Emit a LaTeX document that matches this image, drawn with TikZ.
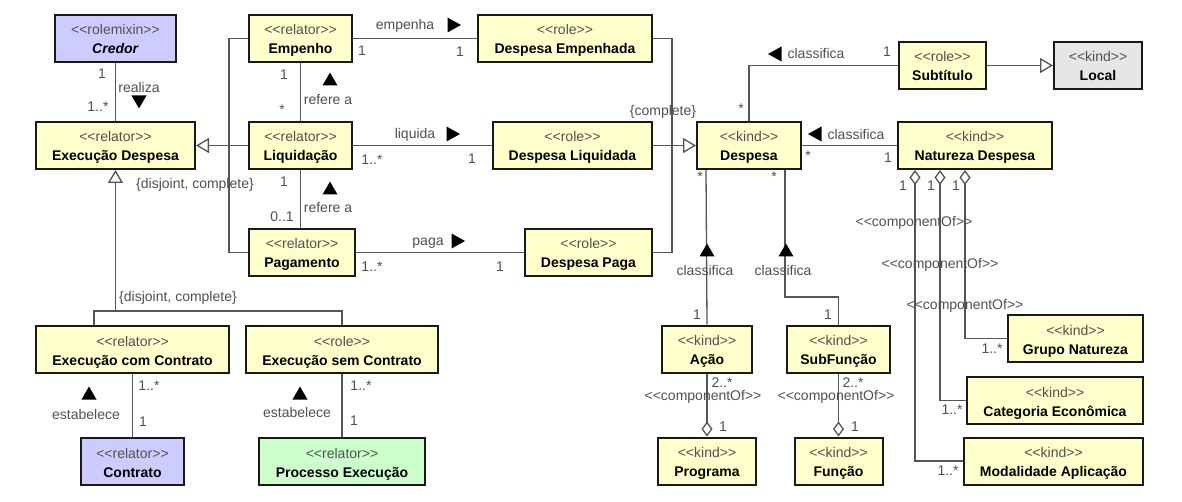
\documentclass[tikz,border=0pt]{standalone}
\usepackage{fontspec}
\setmainfont{Liberation Sans}
\usetikzlibrary{arrows.meta,calc}
\definecolor{boxyellow}{HTML}{FFFFCC}
\definecolor{boxblue}{HTML}{CCCCFF}
\definecolor{boxgreen}{HTML}{CCFFCC}
\definecolor{boxgray}{HTML}{E6E6E6}
\definecolor{linegray}{HTML}{555555}
\definecolor{txtgray}{HTML}{505050}
\newcommand{\stereo}[1]{{\color{txtgray}<\kern0pt<#1>\kern0pt>}}
\newcommand{\umlcls}[2]{\stereo{#1}\rule{0pt}{16pt}\\\textbf{#2}\rule[-4pt]{0pt}{4pt}}
\begin{document}
\begin{tikzpicture}[x=1pt,y=-1pt,
  box/.style={draw=black!90, line width=2pt, fill=boxyellow, align=center, inner sep=0pt, minimum height=47pt, font=\fontsize{14}{19}\selectfont},
  lbl/.style={font=\fontsize{14}{16}\selectfont, text=txtgray, inner sep=0pt, text height=10pt, text depth=3pt},
  assoc/.style={draw=linegray, line width=1.3pt},
  gen/.style={assoc, -{Triangle[length=13pt,width=15pt,fill=white]}},
  agg/.style={assoc, {Diamond[length=15pt,width=11pt,fill=white]}-},
  mup/.pic={\fill (-7.5,6.5) -- (7.5,6.5) -- (0,-6.5) -- cycle;},
  mdown/.pic={\fill (-7.5,-6.5) -- (7.5,-6.5) -- (0,6.5) -- cycle;},
  mright/.pic={\fill (-6.5,-7.5) -- (-6.5,7.5) -- (7,0) -- cycle;},
  mleft/.pic={\fill (6.5,-7.5) -- (6.5,7.5) -- (-7,0) -- cycle;}
]
\fill[white] (0,0) rectangle (1182,502);
\useasboundingbox (0,0) rectangle (1182,502);

% boxes
\node[box, fill=boxblue, minimum width=121pt] (cred) at (115.5,38.5) {\umlcls{rolemixin}{\textit{Credor}}};
\node[box, minimum width=159pt] (exd) at (115.5,145.5) {\umlcls{relator}{Execução Despesa}};
\node[box, minimum width=103pt] (emp) at (300.5,38.5) {\umlcls{relator}{Empenho}};
\node[box, minimum width=103pt] (liq) at (300.5,145.5) {\umlcls{relator}{Liquidação}};
\node[box, minimum width=106pt] (pag) at (302,252.5) {\umlcls{relator}{Pagamento}};
\node[box, minimum width=174pt] (dem) at (565,38.5) {\umlcls{role}{Despesa Empenhada}};
\node[box, minimum width=159pt] (dliq) at (572.5,145.5) {\umlcls{role}{Despesa Liquidada}};
\node[box, minimum width=127pt] (dpag) at (588.5,252.5) {\umlcls{role}{Despesa Paga}};
\node[box, minimum width=104pt] (desp) at (749,145.5) {\umlcls{kind}{Despesa}};
\node[box, minimum width=87pt] (sub) at (942.5,65.5) {\umlcls{role}{Subtítulo}};
\node[box, fill=boxgray, minimum width=88pt] (loc) at (1098,65.5) {\umlcls{kind}{Local}};
\node[box, minimum width=154pt] (nat) at (975,145.5) {\umlcls{kind}{Natureza Despesa}};
\node[box, minimum width=193pt] (ecc) at (132.5,349.5) {\umlcls{relator}{Execução com Contrato}};
\node[box, minimum width=192pt] (esc) at (342,349.5) {\umlcls{role}{Execução sem Contrato}};
\node[box, fill=boxblue, minimum width=103pt] (con) at (132.5,461.5) {\umlcls{relator}{Contrato}};
\node[box, fill=boxgreen, minimum width=166pt] (proc) at (342,461.5) {\umlcls{relator}{Processo Execução}};
\node[box, minimum width=90pt] (acao) at (707,349) {\umlcls{kind}{Ação}};
\node[box, minimum width=103pt] (subf) at (838.5,349) {\umlcls{kind}{SubFunção}};
\node[box, minimum width=98pt] (prog) at (707,461) {\umlcls{kind}{Programa}};
\node[box, minimum width=88pt] (func) at (838.5,461) {\umlcls{kind}{Função}};
\node[box, minimum width=135pt] (grp) at (1075.5,338.5) {\umlcls{kind}{Grupo Natureza}};
\node[box, minimum width=176pt] (cat) at (1055,400.5) {\umlcls{kind}{Categoria Econômica}};
\node[box, minimum width=179pt] (mod) at (1053.5,461) {\umlcls{kind}{Modalidade Aplicação}};

% connectors
\coordinate (gk) at (229,145.5);
\draw[assoc] (emp.west) -| (gk) |- (pag.west);
\draw[gen] (liq.west) -- (exd.east);
\draw[assoc] (cred.south) -- (exd.north);
\draw[assoc] (emp.south) -- (liq.north);
\draw[assoc] (liq.south) -- (liq.south |- pag.north);
\draw[assoc] (emp.east) -- (dem.west);
\draw[assoc] (liq.east) -- (dliq.west);
\draw[assoc] (pag.east) -- (dpag.west);
\coordinate (gc) at (672,145.5);
\draw[assoc] (dem.east) -| (gc) |- (dpag.east);
\draw[gen] (dliq.east) -- (desp.west);
\draw[assoc] (desp.north) |- (sub.west);
\draw[gen] (sub.east) -- (loc.west);
\draw[assoc] (desp.east) -- (nat.west);
\draw[assoc] ([xshift=10pt]desp.south west) -- (acao.north);
\draw[assoc] ([xshift=89pt]desp.south west) -- ++(0,127) -| (subf.north);
\draw[agg] (prog.north) -- (acao.south);
\draw[agg] (func.north) -- (subf.south);
\draw[agg] ([xshift=18pt]nat.south west) |- (mod.west);
\draw[agg] ([xshift=43pt]nat.south west) |- (cat.west);
\draw[agg] ([xshift=68pt]nat.south west) |- (grp.west);
\coordinate (gj) at (115.5,311);
\draw[assoc] ([xshift=59pt]ecc.north west) |- (gj) -| (esc.north);
\draw[gen] (gj) -- (exd.south);
\draw[assoc] (ecc.south) -- (con.north);
\draw[assoc] (esc.south) -- (proc.north);

% labels: Credor - Execucao
\node[lbl] (l01) at (102,75) {1};
\node[lbl] (l02) at (98,108) {1..*};
\node[lbl] (l03) at (139,89) {realiza};
\pic at (139,102) {mdown};
\node[lbl] (l04) at (195,185) {\{disjoint, complete\}};
\node[lbl] (l05) at (178,298) {\{disjoint, complete\}};
% Empenho - Liquidacao
\node[lbl] (l06) at (284,76) {1};
\node[lbl] (l07) at (282,111) {*};
\pic at (330,79) {mup};
\node[lbl] (l08) at (328,101) {refere a};
% Liquidacao - Pagamento
\node[lbl] (l09) at (284,183) {1};
\node[lbl] (l10) at (282,218) {0..1};
\pic at (330,188) {mup};
\node[lbl] (l11) at (328,209) {refere a};
% empenha
\node[lbl] (l12) at (405,26) {empenha};
\pic at (454,25) {mright};
\node[lbl] (l13) at (362,52) {1};
\node[lbl] (l14) at (460,53) {1};
% liquida
\node[lbl] (l15) at (415,135) {liquida};
\pic at (453,134) {mright};
\node[lbl] (l16) at (372,161) {1..*};
\node[lbl] (l17) at (472,160) {1};
% paga
\node[lbl] (l18) at (428,242) {paga};
\pic at (458,241) {mright};
\node[lbl] (l19) at (372,268) {1..*};
\node[lbl] (l20) at (500,268) {1};
\node[lbl] (l21) at (663,112) {\{complete\}};
% Despesa - Subtitulo
\pic at (775,54) {mleft};
\node[lbl] (l22) at (816,55) {classifica};
\node[lbl] (l23) at (887,53) {1};
\node[lbl] (l24) at (741,110) {*};
% Despesa - Natureza
\pic at (815,134) {mleft};
\node[lbl] (l25) at (856,136) {classifica};
\node[lbl] (l26) at (808,157) {*};
\node[lbl] (l27) at (888,159) {1};
% Despesa - Acao
\node[lbl] (l28) at (700,178) {*};
\pic at (707,250) {mup};
\node[lbl] (l29) at (705,272) {classifica};
\node[lbl] (l30) at (697,316) {1};
% Despesa - SubFuncao
\node[lbl] (l31) at (774,178) {*};
\pic at (786,250) {mup};
\node[lbl] (l32) at (783,272) {classifica};
\node[lbl] (l33) at (828,316) {1};
% Acao - Programa
\node[lbl] (l34) at (722,384) {2..*};
\node[lbl] (l35) at (703,397) {\stereo{componentOf}};
\node[lbl] (l36) at (723,428) {1};
% SubFuncao - Funcao
\node[lbl] (l37) at (853,384) {2..*};
\node[lbl] (l38) at (836,397) {\stereo{componentOf}};
\node[lbl] (l39) at (855,428) {1};
% Natureza parts
\node[lbl] (l40) at (903,187) {1};
\node[lbl] (l41) at (931,187) {1};
\node[lbl] (l42) at (956,187) {1};
\node[lbl] (l43) at (914,223) {\stereo{componentOf}};
\node[lbl] (l44) at (940,265) {\stereo{componentOf}};
\node[lbl] (l45) at (965,306) {\stereo{componentOf}};
\node[lbl] (l46) at (992,350) {1..*};
\node[lbl] (l47) at (952,411) {1..*};
\node[lbl] (l48) at (948,472) {1..*};
% Execucao com Contrato - Contrato
\pic at (89,393) {mup};
\node[lbl] (l49) at (86,416) {estabelece};
\node[lbl] (l50) at (149,387) {1..*};
\node[lbl] (l51) at (143,423) {1};
% Execucao sem Contrato - Processo
\pic at (300,393) {mup};
\node[lbl] (l52) at (297,414) {estabelece};
\node[lbl] (l53) at (361,387) {1..*};
\node[lbl] (l54) at (354,422) {1};
\end{tikzpicture}
\end{document}
